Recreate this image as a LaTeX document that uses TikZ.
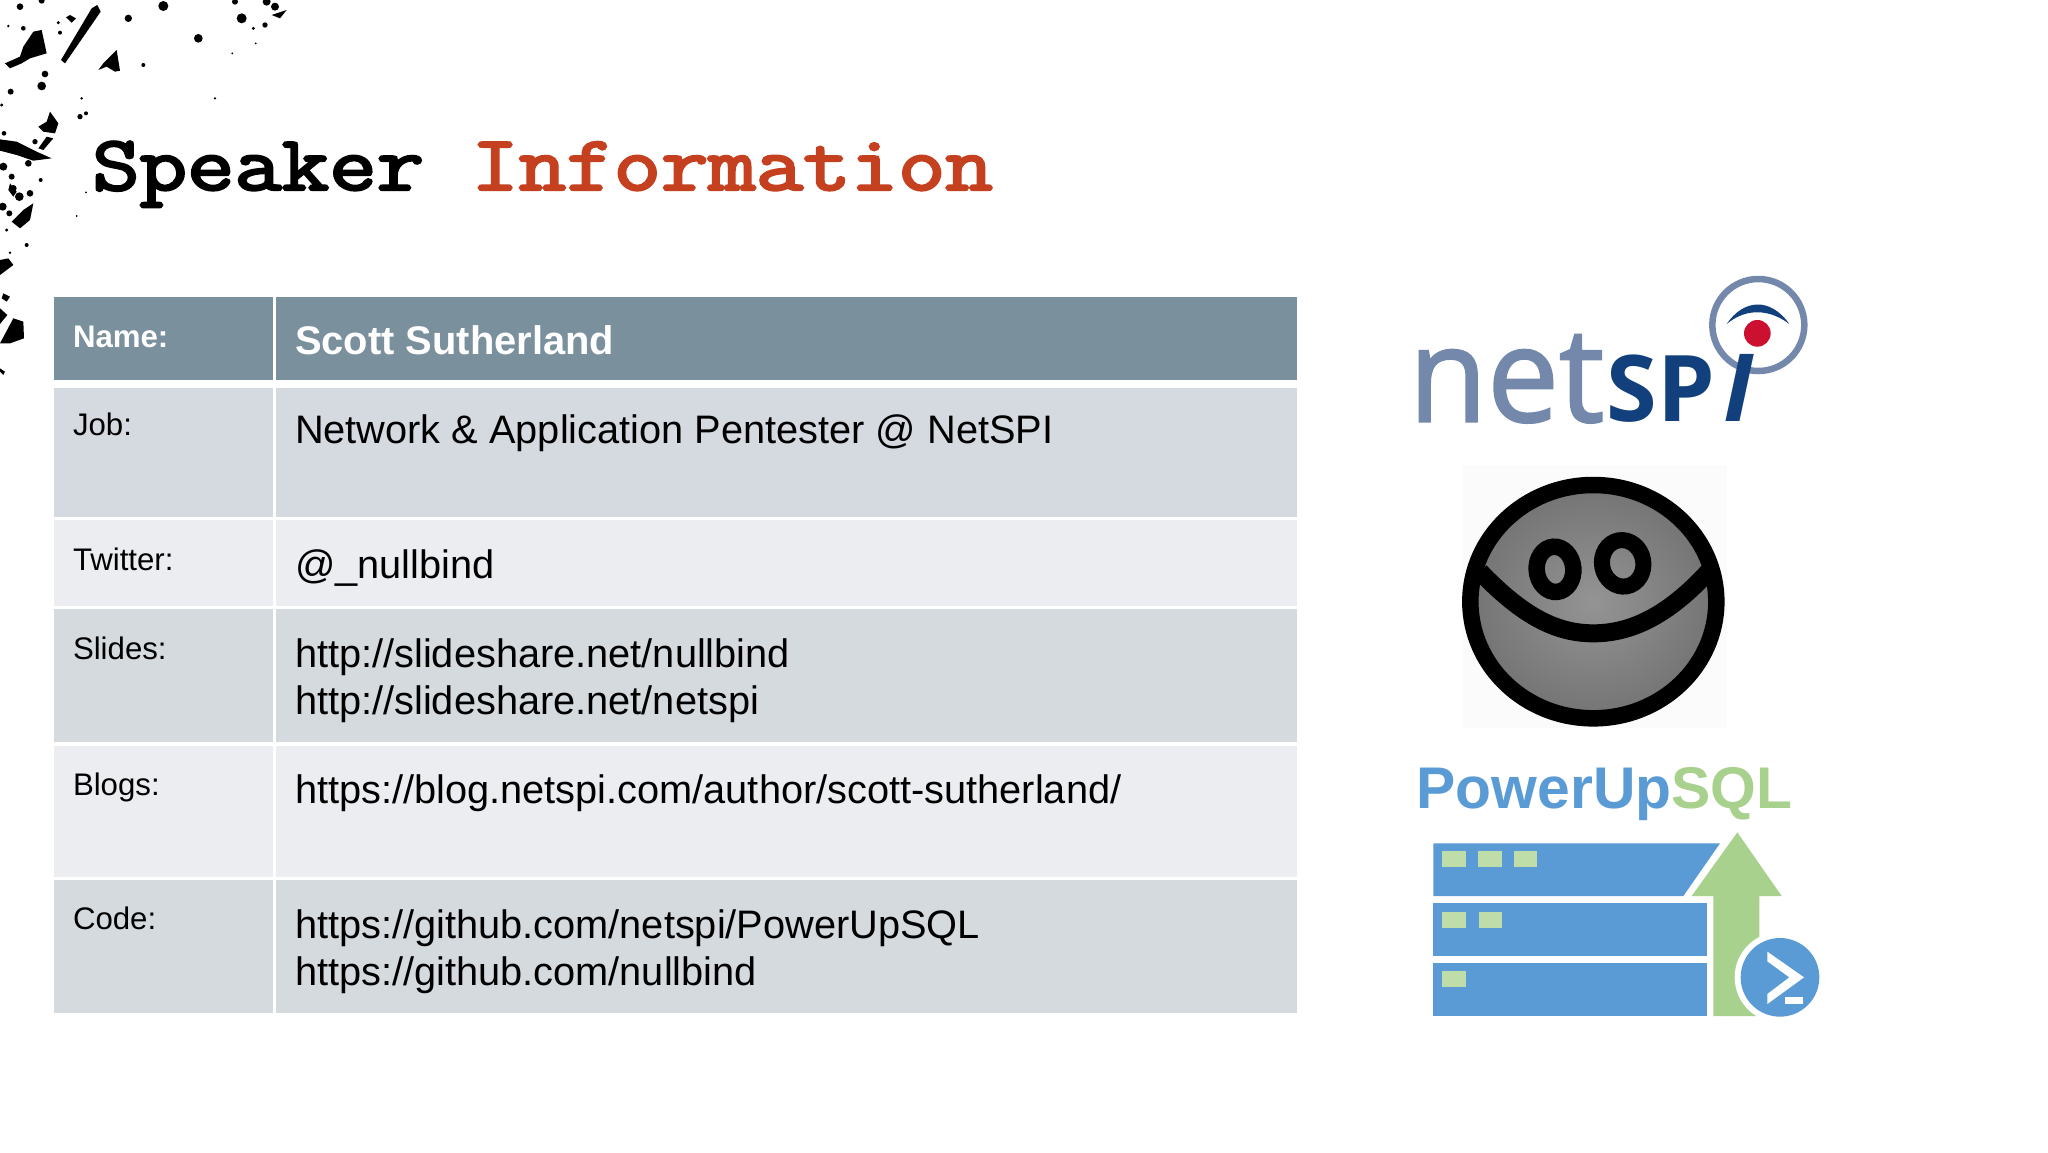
\documentclass[tikz,border=0pt]{standalone}
\usepackage{fontspec}
\setmainfont{Liberation Sans}
\newfontfamily\logofont{Open Sans}
\newfontfamily\netfont[FakeBold=1.6]{Open Sans}
\newfontfamily\titlefont[FakeBold=3]{Latin Modern Mono}
\definecolor{headcol}{HTML}{7A909D}
\definecolor{darkrow}{HTML}{D5DADE}
\definecolor{jobrow}{HTML}{D5D9E0}
\definecolor{lightrow}{HTML}{ECEDF1}
\definecolor{titlered}{HTML}{C4401F}
\definecolor{netgrey}{HTML}{7488AC}
\definecolor{netnavy}{HTML}{12407C}
\definecolor{netred}{HTML}{CC1030}
\definecolor{pblue}{HTML}{5B9BD5}
\definecolor{pgreen}{HTML}{A9D18E}
\definecolor{pgreenlt}{HTML}{BFDDA8}
\tikzset{
  lab/.style={anchor=base west,inner sep=0pt,outer sep=0pt,font=\fontsize{31.2}{31.2}\selectfont,text=black},
  val/.style={anchor=base west,inner sep=0pt,outer sep=0pt,font=\fontsize{39.75}{39.75}\selectfont,text=black},
  cellbox/.style={anchor=north west,inner sep=0pt,outer sep=0pt,draw=none},
  zoomed/.style={x=0.33333pt,y=-0.33333pt}
}
\newcommand{\cellat}[6]{\node[cellbox,fill=#6,minimum width=#4pt-#2pt,minimum height=#5pt-#3pt] (#1) at (#2,#3) {};}
\begin{document}
\begin{tikzpicture}[x=1pt,y=-1pt]
\useasboundingbox (0,0) rectangle (2048,1152);
\fill[white] (0,0) rectangle (2048,1152);

% splatter
\begin{scope}[zoomed]
\fill[black] (100,95)--(125,90)--(140,160)--(90,175)--(65,190)--(30,205)--(15,190)--(60,170)--(70,140)--cycle;
\fill[black] (275,25)--(292,15)--(302,35)--(195,190)--(183,180)--cycle;
\fill[black] (310,190)--(350,150)--(360,212)--(345,215)--(320,200)--(295,210)--cycle;
\fill[black] (0,418)--(50,425)--(110,455)--(155,475)--(100,482)--(50,465)--(0,452)--cycle;
\fill[black] (150,335)--(175,370)--(165,400)--(130,395)--(115,380)--(140,365)--cycle;
\fill[black] (0,780)--(25,775)--(40,795)--(0,825)--cycle;
\fill[black] (40,955)--(70,965)--(72,1015)--(30,1030)--(0,1030)--cycle;
\fill[black] (0,925)--(22,945)--(0,972)--cycle;
\fill[black] (10,880)--(30,890)--(20,905)--(5,895)--cycle;
\fill[black] (70,630)--(100,610)--(90,660)--(60,685)--(35,665)--cycle;
\fill[black] (0,1105)--(15,1115)--(10,1125)--(0,1115)--cycle;
\fill[black] (210,45)--(228,55)--(215,68)--(198,52)--cycle;
\fill[black] (830,40)--(860,30)--(840,55)--(815,45)--cycle;
\fill[black] (30,550)--(50,575)--(40,590)--(25,570)--cycle;
\fill[black] (140,410)--(160,415)--(130,450)--(115,445)--cycle;
\foreach \px/\py/\pr in {490/18/15,595/115/13,725/55/15,800/5/12,825/20/12,705/5/9,795/75/8,385/55/11,430/195/6,125/258/13,135/222/10,32/275/9,240/350/8,258/340/6,245/295/4,645/295/4,697/160/3,767/130/3,12/400/7,85/490/10,105/425/8,10/500/12,35/530/9,40/565/10,58/590/13,90/580/10,8/620/12,28/640/9,20/690/5,80/735/6,30/758/4,122/540/6,60/20/10,125/2/9,70/85/7,180/98/6,175/68/5,25/78/4,5/315/5,230/648/3,258/577/3,760/85/5}{
  \fill[black] (\px,\py) circle[radius=\pr];
}
\end{scope}

% title
\node[anchor=base west,inner sep=0pt,xscale=1.18,font=\titlefont\fontsize{78}{78}\selectfont] (title) at (92,190) {Speaker \textcolor{titlered}{Information}};

% table
\cellat{c11}{54}{297}{273}{380}{headcol}
\cellat{c12}{276}{297}{1297}{380}{headcol}
\cellat{c21}{54}{388}{273}{517}{jobrow}
\cellat{c22}{276}{388}{1297}{517}{jobrow}
\cellat{c31}{54}{520}{273}{606}{lightrow}
\cellat{c32}{276}{520}{1297}{606}{lightrow}
\cellat{c41}{54}{609}{273}{742}{darkrow}
\cellat{c42}{276}{609}{1297}{742}{darkrow}
\cellat{c51}{54}{746}{273}{877}{lightrow}
\cellat{c52}{276}{746}{1297}{877}{lightrow}
\cellat{c61}{54}{880}{273}{1013}{darkrow}
\cellat{c62}{276}{880}{1297}{1013}{darkrow}

\node[lab,text=white,font=\bfseries\fontsize{31.2}{31.2}\selectfont] (tname) at (73,347) {Name:};
\node[val,text=white,font=\bfseries\fontsize{39.9}{39.9}\selectfont] (vname) at (295,354) {Scott Sutherland};
\node[lab] (tjob) at (73,435) {Job:};
\node[val] (vjob) at (295,443) {Network \& Application Pentester @ NetSPI};
\node[lab] (ttw) at (73,570) {Twitter:};
\node[val] (vtw) at (295,578) {@\_nullbind};
\node[lab] (tsl) at (73,659) {Slides:};
\node[val] (vsl1) at (295,667) {http://slideshare.net/nullbind};
\node[val] (vsl2) at (295,714) {http://slideshare.net/netspi};
\node[lab] (tbl) at (73,795) {Blogs:};
\node[val] (vbl) at (295,803) {https://blog.netspi.com/author/scott-sutherland/};
\node[lab] (tco) at (73,929) {Code:};
\node[val] (vco1) at (295,938) {https://github.com/netspi/PowerUpSQL};
\node[val] (vco2) at (295,985) {https://github.com/nullbind};

% netspi logo
\begin{scope}[shift={(1380,250)},zoomed]
\draw[netgrey,line width=6.5pt] (1135,225) circle[radius=138];
\fill[netnavy] (1040,222) .. controls (1090,148) and (1170,140) .. (1228,222) .. controls (1170,178) and (1100,172) .. cycle;
\fill[netred] (1132,250) circle[radius=40];
\node[anchor=base west,inner sep=0pt,text=netgrey,font=\netfont\fontsize{132}{132}\selectfont,xscale=.97] (net) at (85,515) {net};
\node[anchor=base west,inner sep=0pt,text=netnavy,font=\logofont\bfseries\fontsize{92}{92}\selectfont] (sp) at (680,515) {SP};
\node[anchor=base west,inner sep=0pt,text=netnavy,font=\logofont\bfseries\itshape\fontsize{94}{94}\selectfont] (spi) at (1030,515) {I};
\end{scope}

% smiley
\begin{scope}[shift={(1380,250)},zoomed]
\fill[black!1.5] (250,645) rectangle (1040,1435);
\shade[inner color=black!42,outer color=black!55] (640,1055) ellipse[x radius=380,y radius=360];
\draw[black,line width=16.5pt] (640,1055) ellipse[x radius=369,y radius=350];
\draw[black,line width=18pt] (300,965) .. controls (430,1100) and (530,1150) .. (640,1150) .. controls (760,1150) and (870,1090) .. (985,965);
\draw[black,line width=16.5pt,rotate around={5:(525,958)}] (525,958) ellipse[x radius=55,y radius=68];
\draw[black,line width=16pt,rotate around={10:(728,940)}] (728,940) ellipse[x radius=62,y radius=70];
\end{scope}

% powerupsql logo
\node[anchor=base west,inner sep=0pt,font=\bfseries\fontsize{58.8}{58.8}\selectfont,text=pblue] (pus) at (1416.5,808) {PowerUp\textcolor{pgreen}{SQL}};
\begin{scope}[shift={(1380,740)},zoomed]
\fill[pblue] (160,310)--(1020,310)--(910,468)--(160,468)--cycle;
\fill[pblue] (160,490) rectangle (982,648);
\fill[pblue] (160,668) rectangle (980,828);
\fill[pgreen] (1072,277)--(1205,468)--(1138,468)--(1138,828)--(1000,828)--(1000,468)--(935,468)--cycle;
\foreach \bx/\by in {186/333,295/333,401/333,187/516,296/516,187/693}{
  \fill[pgreenlt] (\bx,\by) rectangle ++(71,48);
}
\fill[white] (1200,712) circle[radius=136];
\fill[pblue] (1200,712) circle[radius=118];
\fill[white] (1162,635)--(1272,712)--(1162,792)--(1162,762)--(1228,712)--(1162,664)--cycle;
\fill[white] (1215,772) rectangle (1268,792);
\end{scope}
\end{tikzpicture}
\end{document}
